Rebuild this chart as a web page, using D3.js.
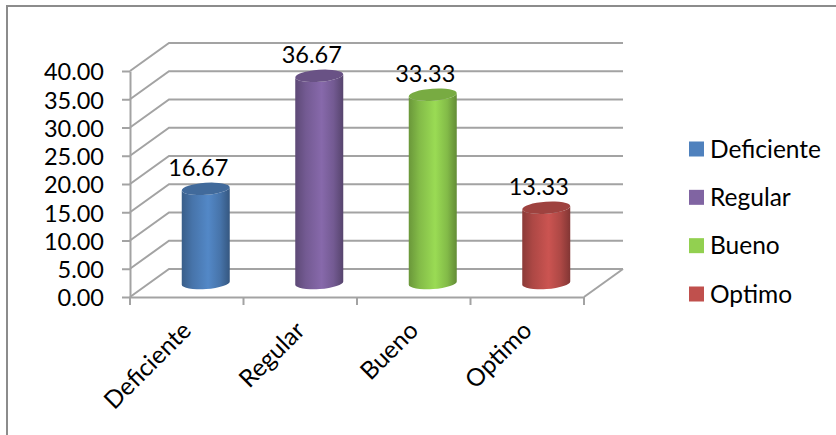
<!DOCTYPE html>
<html>
<head>
<meta charset="utf-8">
<script src="https://cdn.jsdelivr.net/npm/d3@7"></script>
<style>
  html, body { margin: 0; padding: 0; background: #fff; }
  svg { display: block; }
  text { font-family: Lato, "Noto Sans", sans-serif; fill: #000; }
</style>
</head>
<body>
<div id="chart"></div>
<script>
// values
const categories = ["Deficiente", "Regular", "Bueno", "Optimo"];
const values = [16.67, 36.67, 33.33, 13.33];
const colors = ["#4f81bd", "#8064a2", "#92d050", "#c0504d"];
const yTicks = [0, 5, 10, 15, 20, 25, 30, 35, 40];

const width = 836, height = 435;
const depthX = 39, depthY = -28; // offset of the back wall
const gridColor = "#a3a3a3";
const numberSize = 23.5, labelSize = 24.5;

const svg = d3.select("#chart").append("svg")
  .attr("width", width)
  .attr("height", height);

// outer frame, only left and top show in the picture
svg.append("path")
  .attr("d", d3.line()([[7, 435], [7, 6], [836, 6]]))
  .attr("fill", "none")
  .attr("stroke", "#8c8c8c")
  .attr("stroke-width", 2);

const x = d3.scaleBand().domain(categories).range([130, 584]);
const y = d3.scaleLinear().domain([0, 40]).range([297, 71]);

// gradients for the cylinders
const defs = svg.append("defs");
categories.forEach((c, i) => {
  const base = d3.color(colors[i]);
  const g = defs.append("linearGradient").attr("id", "grad" + i);
  g.append("stop").attr("offset", "0%").attr("stop-color", base.darker(0.9));
  g.append("stop").attr("offset", "22%").attr("stop-color", base.darker(0.3));
  g.append("stop").attr("offset", "55%").attr("stop-color", base.brighter(0.15));
  g.append("stop").attr("offset", "80%").attr("stop-color", base.darker(0.3));
  g.append("stop").attr("offset", "100%").attr("stop-color", base.darker(1.1));
});

// side wall and back wall lines
const grid = svg.append("g").attr("fill", "none").attr("stroke", gridColor).attr("stroke-width", 2);
yTicks.forEach(t => {
  grid.append("path").attr("d", d3.line()([
    [x.range()[0], y(t)],
    [x.range()[0] + depthX, y(t) + depthY],
    [x.range()[1] + depthX, y(t) + depthY]
  ]));
});
// floor edge on the right
grid.append("path").attr("d", d3.line()([
  [x.range()[1], y(0)],
  [x.range()[1] + depthX, y(0) + depthY]
]));

// axes
const yAxis = svg.append("g")
  .attr("transform", `translate(${x.range()[0]},0)`)
  .call(d3.axisLeft(y).tickValues(yTicks).tickSize(8).tickSizeOuter(0).tickFormat(d3.format(".2f")));
yAxis.selectAll("text").attr("font-size", numberSize).attr("x", -26).attr("dy", "0.38em");

const xAxis = svg.append("g")
  .attr("transform", `translate(0,${y(0)})`)
  .call(d3.axisBottom(x).tickValues([]).tickSize(0));
xAxis.selectAll(".sep").data(d3.range(categories.length + 1)).join("line")
  .attr("class", "sep")
  .attr("x1", i => x.range()[0] + i * x.bandwidth())
  .attr("x2", i => x.range()[0] + i * x.bandwidth())
  .attr("y1", 0)
  .attr("y2", 8);
svg.selectAll(".domain, .tick line, .sep")
  .attr("stroke", gridColor)
  .attr("stroke-width", 2);

// rotated category labels
svg.selectAll(".cat").data(categories).join("text")
  .attr("class", "cat")
  .attr("text-anchor", "end")
  .attr("font-size", labelSize)
  .attr("transform", d => `translate(${x(d) + x.bandwidth() / 2 + 6},${y(0) + 35}) rotate(-45)`)
  .text(d => d);

// cylinders
const rx = 24, ry = 6;
const tilt = -4;
const cx = d => x(d) + x.bandwidth() / 2 + 19;
const bar = svg.selectAll(".bar").data(categories).join("g").attr("class", "bar");
bar.append("path")
  .attr("fill", (d, i) => `url(#grad${i})`)
  .attr("d", (d, i) => {
    const top = y(values[i]) + depthY / 2, bottom = y(0) + depthY / 2;
    const lift = rx * Math.sin(-tilt * Math.PI / 180);
    return `M${cx(d) - rx},${top + lift} L${cx(d) - rx},${bottom + lift}`
      + ` A${rx},${ry} ${tilt} 0 0 ${cx(d) + rx},${bottom - lift}`
      + ` L${cx(d) + rx},${top - lift}`
      + ` A${rx},${ry} ${tilt} 0 1 ${cx(d) - rx},${top + lift} Z`;
  });
bar.append("ellipse")
  .attr("rx", rx)
  .attr("ry", ry)
  .attr("fill", (d, i) => d3.color(colors[i]).darker(0.55))
  .attr("transform", (d, i) => `translate(${cx(d)},${y(values[i]) + depthY / 2}) rotate(${tilt})`);

// value labels
svg.selectAll(".val").data(categories).join("text")
  .attr("class", "val")
  .attr("text-anchor", "middle")
  .attr("font-size", numberSize)
  .attr("x", d => cx(d) - 7.5)
  .attr("y", (d, i) => y(values[i]) + depthY / 2 - 12.5)
  .text((d, i) => d3.format(".2f")(values[i]));

// legend
const legendY = d3.scalePoint().domain(categories).range([149, 294]);
const legend = svg.selectAll(".leg").data(categories).join("g")
  .attr("class", "leg")
  .attr("transform", d => `translate(689,${legendY(d)})`);
legend.append("rect")
  .attr("y", -7.5)
  .attr("width", 15)
  .attr("height", 15)
  .attr("fill", (d, i) => colors[i]);
legend.append("text")
  .attr("x", 21)
  .attr("dy", "0.35em")
  .attr("font-size", labelSize)
  .text(d => d);
</script>
</body>
</html>
